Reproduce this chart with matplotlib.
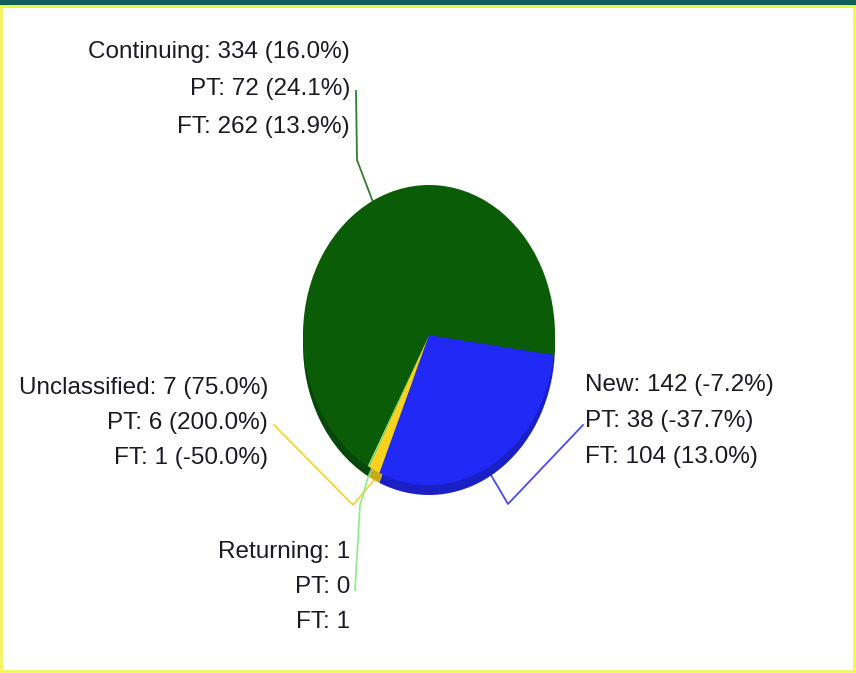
import numpy as np
import matplotlib.pyplot as plt
from matplotlib.patches import Rectangle

# slice data (clockwise from the right side)
names = ["New", "Unclassified", "Returning", "Continuing"]
totals = [142, 7, 1, 334]
total_chg = ["-7.2%", "75.0%", None, "16.0%"]
pt = [38, 6, 0, 72]
pt_chg = ["-37.7%", "200.0%", None, "24.1%"]
ft = [104, 1, 1, 262]
ft_chg = ["13.0%", "-50.0%", None, "13.9%"]

colors = ["#2129F6", "#F7D21E", "#90EE90", "#0A5C06"]
side_colors = ["#1B20C4", "#C9A915", "#72C872", "#07470A"]
line_colors = ["#4B4BF5", "#F5D530", "#90EE90", "#2F7F2F"]

plt.rcParams['font.family'] = ['Liberation Sans', 'DejaVu Sans']

W, H = 856, 673
fig = plt.figure(figsize=(W / 100, H / 100), dpi=100)

# background axes in pixel coords
bg = fig.add_axes([0, 0, 1, 1])
bg.set_xlim(0, W)
bg.set_ylim(H, 0)
bg.axis("off")

# frame
bg.add_patch(Rectangle((0, 0), W, 5, color="#125E5C", lw=0))
bg.add_patch(Rectangle((0, 5), W, 3, color="#E6EC20", lw=0))
bg.add_patch(Rectangle((0.8, 6), W - 2.6, H - 8, fill=False, ec="#F5F53A", lw=1.8))

# pie geometry (pixels)
cx, cy = 429, 335
rx, ry = 126, 150
depth = 10
start = -7.6
d = depth / ry

pax = fig.add_axes([(cx - rx) / W, (H - (cy + ry + depth)) / H,
                    2 * rx / W, (2 * ry + depth) / H])
pax.pie(totals, colors=side_colors, startangle=start, counterclock=False,
        center=(0, -d), wedgeprops=dict(linewidth=0))
pax.pie(totals, colors=colors, startangle=start, counterclock=False,
        center=(0, 0), wedgeprops=dict(linewidth=0))
pax.set_aspect("auto")
pax.set_xlim(-1, 1)
pax.set_ylim(-1 - d, 1)
pax.axis("off")

# label layout
lab_x = [585, 268, 350, 350]
lab_y = [385, 388, 552, 52]
ha = ["left", "right", "right", "right"]
step = [36, 35, 35, 37.5]
elbows = [[(583, 425), (508, 504)],
          [(274, 425), (353, 505)],
          [(355, 590), (360, 505)],
          [(356, 91), (357, 160)]]

frac = np.array(totals) / sum(totals)
edges = start - 360 * np.concatenate([[0], np.cumsum(frac)])
for i, name in enumerate(names):
    mid = np.radians((edges[i] + edges[i + 1]) / 2)
    ax_ = cx + rx * np.cos(mid)
    ay_ = cy - ry * np.sin(mid) + (depth if np.sin(mid) < 0 else 0)
    pts = elbows[i] + [(ax_, ay_)]
    bg.plot([p[0] for p in pts], [p[1] for p in pts], color=line_colors[i], lw=1.3, zorder=1)

    if total_chg[i] is None:
        lines = [f"{name}: {totals[i]}", f"PT: {pt[i]}", f"FT: {ft[i]}"]
    else:
        lines = [f"{name}: {totals[i]} ({total_chg[i]})",
                 f"PT: {pt[i]} ({pt_chg[i]})",
                 f"FT: {ft[i]} ({ft_chg[i]})"]
    for k, s in enumerate(lines):
        bg.text(lab_x[i], lab_y[i] + k * step[i], s, ha=ha[i], va="center",
                fontsize=17.5, color="#1A1A22")

fig.savefig("out.png", dpi=100)
